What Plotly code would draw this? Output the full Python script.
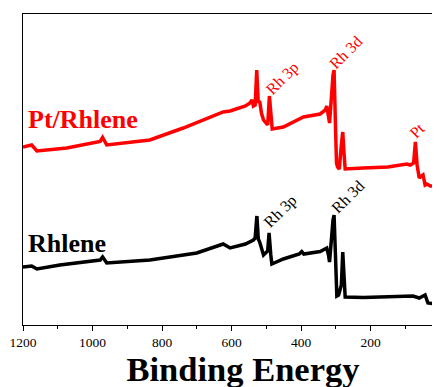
import plotly.graph_objects as go

# Binding energy (eV) and intensity (a.u.)
pt_energy = [1200, 1175, 1160, 1094, 1074, 978, 971, 959, 835, 739, 624, 604, 560, 547,
             541, 537, 532, 527.5, 523, 519, 514, 508, 496, 491, 486, 483, 451, 393,
             345, 330, 326, 321, 318, 308, 305, 301, 298, 295, 290, 284, 280, 276,
             273, 221, 150, 96, 86, 76, 71, 66, 60, 53, 49, 43, 38, 28, 20, 6, 0]
pt_intensity = [178, 180, 174, 176, 177, 183.5, 187.5, 180, 185, 197, 213, 214, 219, 222,
                225, 219, 220, 255, 222, 224, 212, 205, 200, 229, 205, 196, 198, 208,
                211, 215, 219, 210, 202, 250, 255, 200, 162, 158, 156, 180, 193, 170,
                156, 157, 158, 161, 160, 162, 183, 160, 147, 149, 150, 140, 141, 139, 139, 147, 155]

rh_energy = [1200, 1175, 1160, 1094, 978, 971, 959, 835, 700, 624, 604, 560, 537, 532,
             527, 523, 519, 514, 508, 496, 492, 487, 484, 451, 405, 398, 392, 345, 330,
             326, 321, 318, 308, 305, 301, 297, 292, 284, 280, 276, 273, 221, 96, 78,
             60, 43, 35, 15, 3, 0]
rh_intensity = [58, 59, 56, 60, 65, 68, 62, 65, 72, 81, 77, 81, 85, 87,
                109, 86, 83, 76, 70, 74, 92, 70, 61, 66, 71, 73.5, 71, 73.5, 76,
                77, 70, 63, 105, 110, 70, 29, 30, 40, 73, 40, 28, 27.5, 29, 29,
                27, 30, 22, 21, 25, 27]

x_ticks = [1200, 1000, 800, 600, 400, 200, 0]
x_ticklabels = ["1200", "1000", "800", "600", "400", "200", "0"]

serif = "Liberation Serif, Times New Roman, serif"

fig = go.Figure()
fig.add_trace(go.Scatter(x=pt_energy, y=pt_intensity, mode="lines",
                         line=dict(color="#ff0000", width=3.5), name="Pt/Rhlene",
                         showlegend=False))
fig.add_trace(go.Scatter(x=rh_energy, y=rh_intensity, mode="lines",
                         line=dict(color="#000000", width=3.5), name="Rhlene",
                         showlegend=False))

labels = [
    (452, 247, "Rh 3p", "#ff0000"),
    (272, 273, "Rh 3d", "#ff0000"),
    (66, 195, "Pt", "#ff0000"),
    (458, 114, "Rh 3p", "#000000"),
    (265, 129, "Rh 3d", "#000000"),
]
for x, y, t, c in labels:
    fig.add_annotation(x=x, y=y, text=t, showarrow=False, textangle=-45,
                       xanchor="center", yanchor="middle", borderpad=0,
                       font=dict(family=serif, size=16, color=c))

fig.add_annotation(x=1188.5, y=206, text="<b>Pt/Rhlene</b>", showarrow=False,
                   xanchor="left", yanchor="middle", borderpad=0,
                   font=dict(family=serif, size=26, color="#ff0000"))
fig.add_annotation(x=1188.5, y=82, text="<b>Rhlene</b>", showarrow=False,
                   xanchor="left", yanchor="middle", borderpad=0,
                   font=dict(family=serif, size=26, color="#000000"))

# the page shows the figure offset by the default 8px body margin;
# the plot area runs on past the right edge of the visible window
fig.update_layout(
    width=464, height=387,
    margin=dict(l=15, r=9, t=6, b=70, autoexpand=False),
    paper_bgcolor="white", plot_bgcolor="white",
    font=dict(family=serif, color="black"),
    xaxis=dict(
        range=[1200, -66], tickvals=x_ticks, ticktext=x_ticklabels,
        ticks="outside", ticklen=5, tickwidth=1, tickcolor="black",
        minor=dict(tickvals=[1100, 900, 700, 500, 300, 100], ticks="outside",
                   ticklen=3, tickcolor="black", tickwidth=1),
        showline=True, linecolor="black", linewidth=1, mirror=True,
        showgrid=False, zeroline=False, automargin=False,
        tickfont=dict(family=serif, size=13.5, color="black"),
        title=dict(text="<b>Binding Energy</b>", standoff=2,
                   font=dict(family=serif, size=34.5, color="black")),
    ),
    yaxis=dict(
        range=[0, 311], showticklabels=False, ticks="",
        showline=True, linecolor="black", linewidth=1, mirror=False,
        showgrid=False, zeroline=False, automargin=False,
    ),
)

fig.write_html("out.html")
